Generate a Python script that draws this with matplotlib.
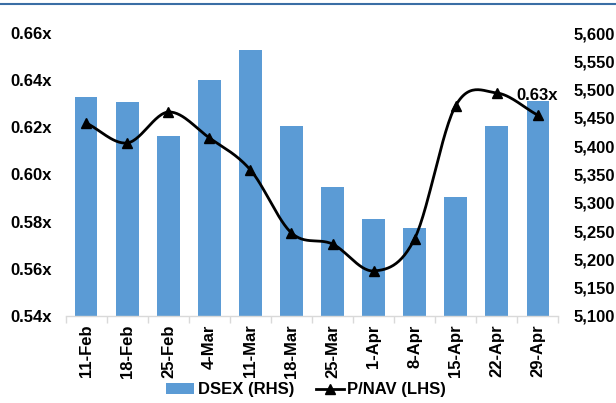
import numpy as np
import matplotlib
matplotlib.use("Agg")
import matplotlib.pyplot as plt
from matplotlib.lines import Line2D
from matplotlib.patches import Patch
from matplotlib.ticker import FuncFormatter, MultipleLocator

plt.rcParams['font.family'] = ['Liberation Sans', 'DejaVu Sans']

dates = ["11-Feb", "18-Feb", "25-Feb", "4-Mar", "11-Mar", "18-Mar",
         "25-Mar", "1-Apr", "8-Apr", "15-Apr", "22-Apr", "29-Apr"]
dsex = [5487, 5478, 5418, 5517, 5570, 5436, 5328, 5271, 5255, 5310, 5436, 5480]
pnav = [0.6218, 0.6134, 0.6265, 0.6155, 0.6019, 0.5752, 0.5705, 0.5591,
        0.5727, 0.6291, 0.6346, 0.6252]
last_label = "0.63x"

BLUE = "#5B9BD5"
FS = 12

fig = plt.figure(figsize=(6.16, 4.03), dpi=100)
ax = fig.add_axes([0.107, 0.216, 0.799, 0.702])
ax2 = ax.twinx()

x = np.arange(len(dates))

# bars on right axis
ax2.bar(x, dsex, width=0.54, color=BLUE, zorder=1)
ax2.set_ylim(5100, 5600)
ax2.yaxis.set_major_locator(MultipleLocator(50))
ax2.yaxis.set_major_formatter(FuncFormatter(lambda v, p: f"{int(v):,}"))

# smoothed line on left axis (Catmull-Rom through data points)
def catmull(xs, ys, n=30):
    P = np.column_stack([xs, ys]).astype(float)
    P = np.vstack([P[0] * 2 - P[1], P, P[-1] * 2 - P[-2]])
    out = []
    for i in range(1, len(P) - 2):
        p0, p1, p2, p3 = P[i - 1], P[i], P[i + 1], P[i + 2]
        t = np.linspace(0, 1, n)[:, None]
        seg = 0.5 * ((2 * p1) + (-p0 + p2) * t + (2 * p0 - 5 * p1 + 4 * p2 - p3) * t ** 2
                     + (-p0 + 3 * p1 - 3 * p2 + p3) * t ** 3)
        out.append(seg)
    return np.vstack(out)

curve = catmull(x, pnav)
ax.set_zorder(ax2.get_zorder() + 1)
ax.patch.set_visible(False)
ax.plot(curve[:, 0], curve[:, 1], color="black", lw=2, zorder=3)
ax.plot(x, pnav, linestyle="none", marker="^", color="black", markersize=7, zorder=4)
ax.set_ylim(0.54, 0.66)
ax.yaxis.set_major_locator(MultipleLocator(0.02))
ax.yaxis.set_major_formatter(FuncFormatter(lambda v, p: f"{v:.2f}x"))
ax.set_xlim(-0.5, len(dates) - 0.5)

ax.annotate(last_label, (x[-1], pnav[-1]), xytext=(0, 14), textcoords="offset points",
            ha="center", va="center", fontsize=FS, fontweight="bold")

# x ticks
ax.set_xticks(x)
ax.set_xticklabels(dates, rotation=90, fontsize=FS, fontweight="bold")
ax.tick_params(axis="x", length=0, pad=6)
ax.set_xticks(np.arange(-0.5, len(dates)), minor=True)
ax.tick_params(axis="x", which="minor", length=5, color="#d9d9d9", width=1)

for a in (ax, ax2):
    for s in a.spines.values():
        s.set_visible(False)
ax.spines["bottom"].set_visible(True)
ax.spines["bottom"].set_color("#d9d9d9")
ax.spines["bottom"].set_linewidth(1)

ax.tick_params(axis="y", length=0, pad=10)
ax2.tick_params(axis="y", length=0, pad=11)
for lbl in ax.get_yticklabels() + ax2.get_yticklabels():
    lbl.set_fontsize(FS)
    lbl.set_fontweight("bold")

handles = [Patch(facecolor=BLUE, edgecolor="none"),
           Line2D([0], [0], color="black", lw=2, marker="^", markersize=7)]
fig.legend(handles, ["DSEX (RHS)", "P/NAV (LHS)"], loc="center", bbox_to_anchor=(0.497, 0.033),
           ncol=2, frameon=False, prop={"weight": "bold", "size": FS},
           handlelength=1.7, handleheight=0.6, handletextpad=0.2, columnspacing=1.3)

fig.add_artist(Line2D([0, 1], [0.99, 0.99], transform=fig.transFigure, color="#3a6ea5", lw=1.5))

fig.savefig("out.png", dpi=100)
